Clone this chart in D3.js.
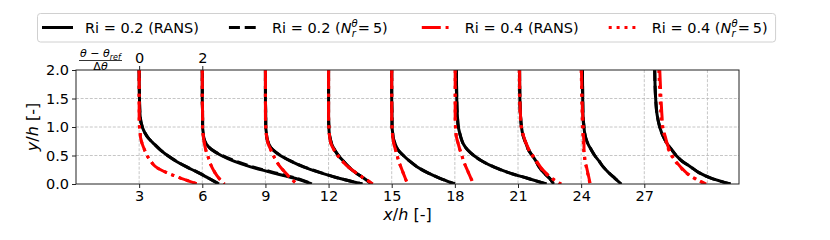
<!DOCTYPE html>
<html>
<head>
<meta charset="utf-8">
<script src="https://cdn.jsdelivr.net/npm/d3@7"></script>
<style>
  body { margin: 0; background: #fff; }
  svg text { font-family: "DejaVu Sans", sans-serif; fill: #000; }
</style>
</head>
<body>
<svg id="chart" width="830" height="240"></svg>
<script>
// heights where the profiles were read (y/h)
let yLevels = [0, 0.1, 0.2, 0.3, 0.4, 0.5, 0.6, 0.7, 0.8, 0.9, 1.0, 1.2, 1.5, 2.0];

// measuring stations (x/h)
let stations = [3, 6, 9, 12, 15, 18, 21, 24, 27];

// (theta - theta_ref)/dtheta at every yLevel, one row per station
let ransRi02 = [
  [2.53, 2.2, 1.87, 1.5, 1.17, 0.9, 0.67, 0.48, 0.3, 0.18, 0.1, 0.03, 0.01, 0],
  [3.47, 2.93, 2.2, 1.53, 1.0, 0.6, 0.3, 0.13, 0.05, 0.03, 0.01, 0.01, 0, 0],
  [3.07, 2.33, 1.73, 1.2, 0.8, 0.47, 0.23, 0.11, 0.05, 0.03, 0.01, 0.01, 0, 0],
  [1.37, 1.12, 0.85, 0.63, 0.47, 0.31, 0.19, 0.1, 0.05, 0.02, 0.01, 0, 0, 0],
  [2.0, 1.53, 1.13, 0.81, 0.57, 0.37, 0.2, 0.11, 0.05, 0.03, 0.01, 0.01, 0, 0],
  [2.9, 2.3, 1.7, 1.23, 0.87, 0.6, 0.4, 0.27, 0.2, 0.15, 0.11, 0.08, 0.06, 0.05],
  [1.13, 1.0, 0.81, 0.67, 0.57, 0.45, 0.33, 0.26, 0.19, 0.14, 0.11, 0.08, 0.06, 0.05],
  [1.27, 1.07, 0.87, 0.7, 0.57, 0.43, 0.32, 0.22, 0.15, 0.11, 0.09, 0.06, 0.05, 0.04],
  [2.73, 2.13, 1.73, 1.47, 1.2, 1.01, 0.87, 0.73, 0.63, 0.55, 0.49, 0.41, 0.36, 0.33]
];

let lesRi02 = [
  [2.53, 2.21, 1.88, 1.51, 1.18, 0.9, 0.67, 0.48, 0.3, 0.18, 0.1, 0.03, 0.01, 0],
  [3.5, 2.98, 2.28, 1.6, 1.06, 0.63, 0.31, 0.13, 0.05, 0.03, 0.01, 0.01, 0, 0],
  [3.07, 2.35, 1.75, 1.22, 0.81, 0.48, 0.24, 0.11, 0.05, 0.03, 0.01, 0.01, 0, 0],
  [1.37, 1.12, 0.86, 0.64, 0.47, 0.31, 0.19, 0.1, 0.05, 0.02, 0.01, 0, 0, 0],
  [2.0, 1.53, 1.13, 0.81, 0.57, 0.37, 0.2, 0.11, 0.05, 0.03, 0.01, 0.01, 0, 0],
  [2.9, 2.3, 1.7, 1.23, 0.87, 0.6, 0.4, 0.27, 0.2, 0.15, 0.11, 0.08, 0.06, 0.05],
  [1.13, 1.0, 0.81, 0.67, 0.57, 0.45, 0.33, 0.26, 0.19, 0.14, 0.11, 0.08, 0.06, 0.05],
  [1.27, 1.07, 0.87, 0.7, 0.57, 0.43, 0.32, 0.22, 0.15, 0.11, 0.09, 0.06, 0.05, 0.04],
  [2.73, 2.13, 1.73, 1.47, 1.2, 1.01, 0.87, 0.73, 0.63, 0.55, 0.49, 0.41, 0.36, 0.33]
];

let ransRi04 = [
  [1.85, 1.33, 0.87, 0.53, 0.37, 0.25, 0.17, 0.1, 0.05, 0.03, 0.01, 0, 0, 0],
  [0.7, 0.53, 0.4, 0.3, 0.23, 0.17, 0.11, 0.07, 0.04, 0.02, 0.01, 0.01, 0, 0],
  [1.0, 0.8, 0.63, 0.47, 0.35, 0.25, 0.17, 0.09, 0.05, 0.02, 0.01, 0, 0, 0],
  [1.4, 1.13, 0.86, 0.62, 0.44, 0.29, 0.17, 0.08, 0.04, 0.02, 0.01, 0, 0, 0],
  [0.5, 0.43, 0.36, 0.29, 0.22, 0.17, 0.12, 0.07, 0.04, 0.02, 0.01, 0, 0, 0],
  [0.59, 0.51, 0.43, 0.35, 0.28, 0.22, 0.16, 0.11, 0.06, 0.03, 0.02, 0.01, 0.01, 0.01],
  [1.37, 1.08, 0.87, 0.71, 0.59, 0.47, 0.35, 0.27, 0.2, 0.15, 0.11, 0.08, 0.06, 0.05],
  [0.29, 0.25, 0.21, 0.17, 0.13, 0.11, 0.09, 0.09, 0.08, 0.07, 0.07, 0.05, 0.03, 0.01],
  [1.96, 1.6, 1.33, 1.15, 1.0, 0.88, 0.79, 0.73, 0.68, 0.63, 0.59, 0.56, 0.53, 0.49]
];

let lesRi04 = [
  [1.85, 1.33, 0.87, 0.53, 0.37, 0.25, 0.17, 0.1, 0.05, 0.03, 0.01, 0, 0, 0],
  [0.7, 0.53, 0.4, 0.3, 0.23, 0.17, 0.11, 0.07, 0.04, 0.02, 0.01, 0.01, 0, 0],
  [1.0, 0.8, 0.63, 0.47, 0.35, 0.25, 0.17, 0.09, 0.05, 0.02, 0.01, 0, 0, 0],
  [1.4, 1.13, 0.86, 0.62, 0.44, 0.29, 0.17, 0.08, 0.04, 0.02, 0.01, 0, 0, 0],
  [0.5, 0.43, 0.36, 0.29, 0.22, 0.17, 0.12, 0.07, 0.04, 0.02, 0.01, 0, 0, 0],
  [0.59, 0.51, 0.43, 0.35, 0.28, 0.22, 0.16, 0.11, 0.06, 0.03, 0.02, 0.01, 0.01, 0.01],
  [1.35, 1.06, 0.85, 0.69, 0.57, 0.45, 0.34, 0.26, 0.19, 0.14, 0.1, 0.07, 0.05, 0.04],
  [0.28, 0.24, 0.2, 0.16, 0.12, 0.1, 0.08, 0.07, 0.06, 0.05, 0.04, 0.03, 0.02, 0.0],
  [1.94, 1.58, 1.31, 1.13, 0.98, 0.86, 0.77, 0.71, 0.66, 0.61, 0.57, 0.53, 0.5, 0.46]
];

let xTicks = [3, 6, 9, 12, 15, 18, 21, 24, 27];
let xGrid = [3, 6, 9, 12, 15, 18, 21, 24, 27, 30];
let yTicks = [0, 0.5, 1.0, 1.5, 2.0];
let thetaTicks = [0, 2];

// one theta unit is 1.5 x/h on the plot
let thetaStretch = 1.5;

let series = [
  { label: "Ri = 0.2 (RANS)", rows: ransRi02, color: "#000", dash: null, les: false },
  { label: "Ri = 0.2 (", rows: lesRi02, color: "#000", dash: "11,4.8", les: true },
  { label: "Ri = 0.4 (RANS)", rows: ransRi04, color: "#ff0000", dash: "19,4.8,3,4.8", les: false },
  { label: "Ri = 0.4 (", rows: lesRi04, color: "#ff0000", dash: "3,4.9", les: true }
];

let plot = { left: 76, right: 739, top: 70, bottom: 184 };

let svg = d3.select("#chart");

let x = d3.scaleLinear().domain([0, 31.5]).range([plot.left, plot.right]);
let y = d3.scaleLinear().domain([0, 2]).range([plot.bottom, plot.top]);
let xTheta = d3.scaleLinear()
  .domain([(0 - 3) / thetaStretch, (31.5 - 3) / thetaStretch])
  .range([plot.left, plot.right]);

svg.append("defs").append("clipPath").attr("id", "clip")
  .append("rect")
    .attr("x", plot.left).attr("y", plot.top)
    .attr("width", plot.right - plot.left).attr("height", plot.bottom - plot.top);

// grid
let grid = svg.append("g").attr("stroke", "#b8b8b8").attr("stroke-width", 0.8).attr("stroke-dasharray", "3,1.6");
grid.selectAll("line.gx").data(xGrid).join("line").attr("class", "gx")
  .attr("x1", d => x(d)).attr("x2", d => x(d))
  .attr("y1", plot.top).attr("y2", plot.bottom);
grid.selectAll("line.gy").data(yTicks.slice(1, -1)).join("line").attr("class", "gy")
  .attr("x1", plot.left).attr("x2", plot.right)
  .attr("y1", d => y(d)).attr("y2", d => y(d));

// profiles
let line = d3.line()
  .x(d => d.x)
  .y(d => d.y)
  .curve(d3.curveMonotoneY);

let curves = svg.append("g").attr("clip-path", "url(#clip)");

series.forEach(s => {
  s.rows.forEach((row, i) => {
    let pts = row.map((t, j) => ({
      x: x(stations[i] + t * thetaStretch),
      y: y(yLevels[j])
    })).reverse();
    curves.append("path")
      .attr("d", line(pts))
      .attr("fill", "none")
      .attr("stroke", s.color)
      .attr("stroke-width", 3)
      .attr("stroke-dasharray", s.dash);
  });
});

// frame
svg.append("rect")
  .attr("x", plot.left).attr("y", plot.top)
  .attr("width", plot.right - plot.left).attr("height", plot.bottom - plot.top)
  .attr("fill", "none").attr("stroke", "#222").attr("stroke-width", 1);

// axes
let xAxis = d3.axisBottom(x).tickValues(xTicks).tickSize(4).tickPadding(3).tickFormat(d3.format("d"));
let gx = svg.append("g").attr("transform", `translate(0,${plot.bottom})`).call(xAxis);

let yAxis = d3.axisLeft(y).tickValues(yTicks).tickSize(4).tickPadding(3).tickFormat(d3.format(".1f"));
let gy = svg.append("g").attr("transform", `translate(${plot.left},0)`).call(yAxis);

let tAxis = d3.axisTop(xTheta).tickValues(thetaTicks).tickSize(4).tickPadding(3).tickFormat(d3.format("d"));
let gt = svg.append("g").attr("transform", `translate(0,${plot.top})`).call(tAxis);

[gx, gy, gt].forEach(g => {
  g.select(".domain").remove();
  g.selectAll(".tick line").attr("stroke", "#222").attr("stroke-width", 1);
  g.selectAll(".tick text").attr("font-size", 14.5).attr("font-family", "DejaVu Sans").attr("fill", "#000");
});

// axis labels
let xl = svg.append("text")
  .attr("x", (plot.left + plot.right) / 2).attr("y", 220)
  .attr("text-anchor", "middle").attr("font-size", 16);
xl.append("tspan").attr("font-style", "italic").text("x");
xl.append("tspan").text("/");
xl.append("tspan").attr("font-style", "italic").text("h");
xl.append("tspan").text(" [-]");

let yl = svg.append("text")
  .attr("transform", `translate(38,${(plot.top + plot.bottom) / 2}) rotate(-90)`)
  .attr("text-anchor", "middle").attr("font-size", 16);
yl.append("tspan").attr("font-style", "italic").text("y");
yl.append("tspan").text("/");
yl.append("tspan").attr("font-style", "italic").text("h");
yl.append("tspan").text(" [-]");

// theta fraction label
let frac = svg.append("g").attr("font-size", 11);
let num = frac.append("text").attr("x", 80).attr("y", 57);
num.append("tspan").attr("font-style", "italic").text("θ");
num.append("tspan").text(" − ");
num.append("tspan").attr("font-style", "italic").text("θ");
num.append("tspan").attr("font-style", "italic").attr("font-size", 8).attr("dy", 2.5).text("ref");
frac.append("line")
  .attr("x1", 79).attr("x2", 122).attr("y1", 60.5).attr("y2", 60.5)
  .attr("stroke", "#000").attr("stroke-width", 0.8);
let den = frac.append("text").attr("x", 100.5).attr("y", 70).attr("text-anchor", "middle");
den.append("tspan").text("Δ");
den.append("tspan").attr("font-style", "italic").text("θ");

// legend
let legend = svg.append("g");
let box = legend.append("rect")
  .attr("x", 37.5).attr("y", 13.5).attr("height", 28.5).attr("rx", 3)
  .attr("fill", "#fff").attr("fill-opacity", 0.8)
  .attr("stroke", "#d0d0d0").attr("stroke-width", 1);

let lx = 42;
let ly = 27.5;
series.forEach(s => {
  legend.append("line")
    .attr("x1", lx).attr("x2", lx + 31).attr("y1", ly).attr("y2", ly)
    .attr("stroke", s.color).attr("stroke-width", 3)
    .attr("stroke-dasharray", s.dash);
  let t = legend.append("text").attr("x", lx + 43).attr("y", ly + 5).attr("font-size", 14.5);
  t.append("tspan").text(s.label);
  if (s.les) {
    t.append("tspan").attr("font-style", "italic").text("N");
    t.append("tspan").attr("font-style", "italic").attr("font-size", 10).attr("dy", -6).text("θ");
    t.append("tspan").attr("font-style", "italic").attr("font-size", 10).attr("dx", -6).attr("dy", 10).text("r");
    t.append("tspan").attr("dx", 2).attr("dy", -4).text("=\u20095)");
  }
  lx = lx + 43 + t.node().getComputedTextLength() + 30;
});
box.attr("width", lx - 30 + 4 - 37.5);
</script>
</body>
</html>
